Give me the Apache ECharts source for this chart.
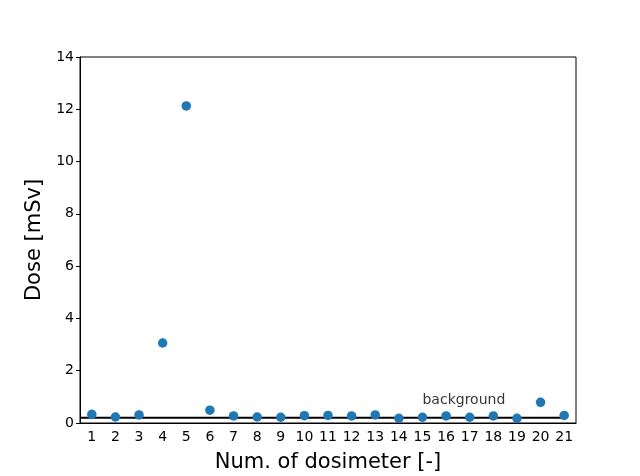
<!DOCTYPE html>
<html>
<head>
<meta charset="utf-8">
<script src="https://cdn.jsdelivr.net/npm/echarts@6/dist/echarts.min.js"></script>
<style>html,body{margin:0;padding:0;background:#fff}#c{width:640px;height:476px}</style>
</head>
<body>
<div id="c"></div>
<script>
const categories = ['1','2','3','4','5','6','7','8','9','10','11','12','13','14','15','16','17','18','19','20','21'];
const doseValues = [0.33,0.23,0.31,3.06,12.13,0.49,0.27,0.23,0.22,0.28,0.29,0.27,0.31,0.18,0.22,0.27,0.22,0.27,0.18,0.79,0.29];
const backgroundLevel = 0.2;
const backgroundLineX = [0.5, 21.12];
const backgroundLabelPos = [15, 0.6];
const yTicks = [0,2,4,6,8,10,12,14];

const font = 'DejaVu Sans';
const chart = echarts.init(document.getElementById('c'), null, {renderer: 'canvas'});
chart.setOption({
  animation: false,
  backgroundColor: '#ffffff',
  grid: {left: 80, right: 64, top: 57, bottom: 53, show: true, borderColor: '#000', borderWidth: 1, backgroundColor: 'transparent', containLabel: false, outerBoundsMode: 'none'},
  xAxis: [{
    type: 'category',
    data: categories,
    boundaryGap: true,
    name: 'Num. of dosimeter [-]',
    nameLocation: 'middle',
    nameGap: 29,
    nameTextStyle: {fontFamily: font, fontSize: 21, color: '#000'},
    axisLine: {lineStyle: {color: '#000', width: 1}},
    axisTick: {alignWithLabel: true, length: 4, lineStyle: {color: '#000'}},
    axisLabel: {fontFamily: font, fontSize: 14, color: '#000', margin: 7, interval: 0},
    splitLine: {show: false}
  }, {
    type: 'value',
    min: 0.5, max: 21.5,
    show: false
  }],
  yAxis: {
    type: 'value',
    min: yTicks[0], max: yTicks[yTicks.length-1], interval: 2,
    name: 'Dose [mSv]',
    nameLocation: 'middle',
    nameGap: 34,
    nameTextStyle: {fontFamily: font, fontSize: 21, color: '#000'},
    axisLine: {show: true, lineStyle: {color: '#000', width: 1}},
    axisTick: {show: true, length: 4, lineStyle: {color: '#000'}},
    axisLabel: {fontFamily: font, fontSize: 14, color: '#000', margin: 6},
    splitLine: {show: false}
  },
  series: [{
    type: 'line',
    xAxisIndex: 1,
    data: backgroundLineX.map(x => [x, backgroundLevel]),
    symbol: 'none',
    lineStyle: {color: '#000', width: 1.8},
    z: 1
  }, {
    type: 'scatter',
    xAxisIndex: 0,
    data: doseValues,
    symbolSize: 9.5,
    itemStyle: {color: '#1f77b4', opacity: 1},
    z: 3
  }, {
    type: 'scatter',
    xAxisIndex: 1,
    data: [backgroundLabelPos],
    symbolSize: 0,
    label: {
      show: true,
      formatter: 'background',
      position: [0, 0],
      align: 'left',
      verticalAlign: 'bottom',
      fontFamily: font,
      fontSize: 14,
      color: '#000'
    },
    z: 4
  }]
});
</script>
</body>
</html>
